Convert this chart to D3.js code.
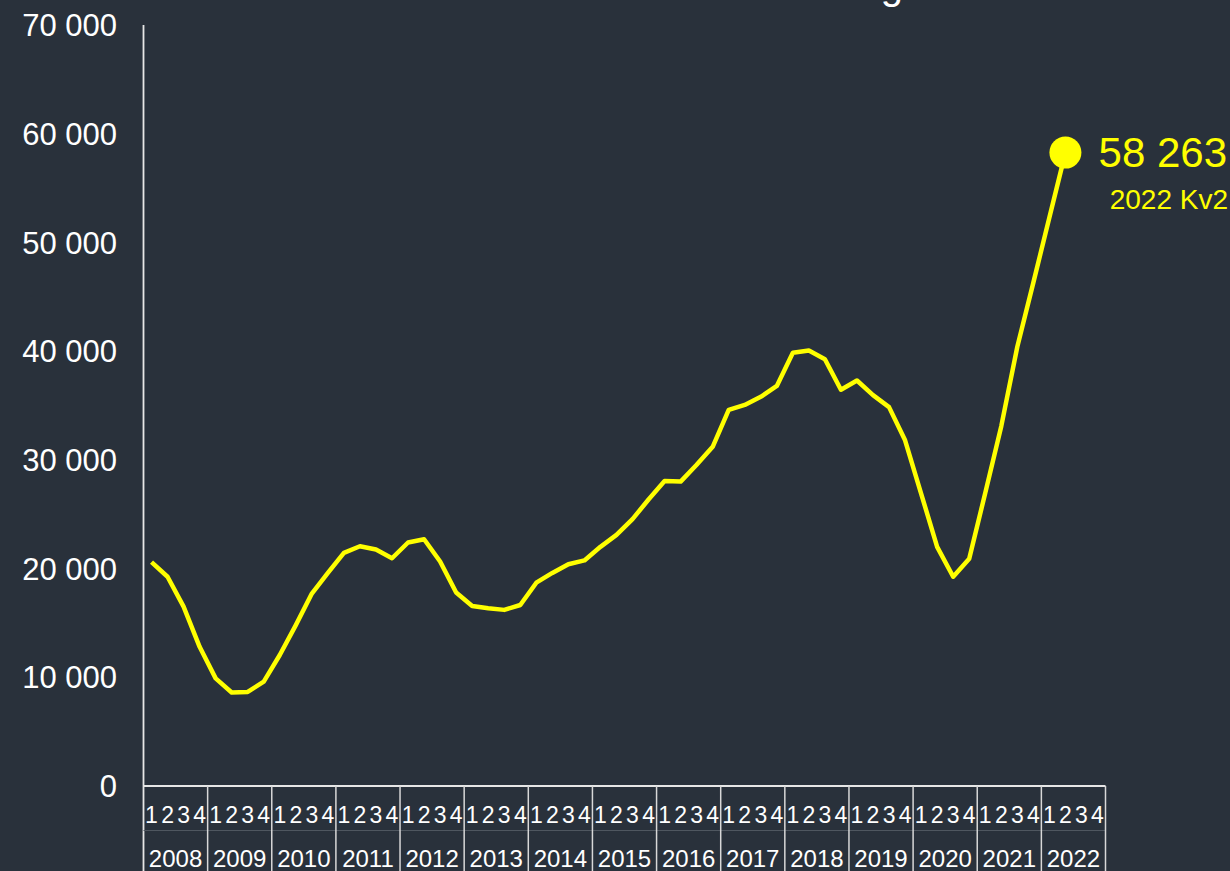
<!DOCTYPE html>
<html>
<head>
<meta charset="utf-8">
<script src="https://cdn.jsdelivr.net/npm/d3@7"></script>
<style>
    html, body { margin: 0; padding: 0; background: #29313b; }
    svg { display: block; font-family: "Liberation Sans", Arial, sans-serif; }
</style>
</head>
<body>
<div id="chart"></div>
<script>
// Data
const years = ["2008", "2009", "2010", "2011", "2012", "2013", "2014", "2015", "2016", "2017", "2018", "2019", "2020", "2021", "2022"];
const quarters = ["1", "2", "3", "4"];
const values = [
    20600, 19250, 16500, 12800,
    9900, 8600, 8650, 9600,
    12050, 14800, 17700, 19600,
    21450, 22050, 21750, 20950,
    22400, 22700, 20650, 17800,
    16550, 16350, 16200, 16650,
    18700, 19600, 20400, 20750,
    22000, 23100, 24550, 26350,
    28050, 28000, 29550, 31200,
    34600, 35050, 35800, 36800,
    39850, 40050, 39250, 36450,
    37300, 35950, 34850, 31800,
    26900, 22000, 19250, 20900,
    26950, 33100, 40400, 46300,
    52300, 58263
];
const yTicks = [0, 10000, 20000, 30000, 40000, 50000, 60000, 70000];
const title = "Utveckling";
const lastLabel = "2022 Kv2";

// Colors
const bg = "#29313b";
const lc = "#ffff00";
const tc = "#ffffff";

// Size
const w = 1230, h = 871;
const m = { top: 25, right: 124, bottom: 85, left: 143.5 };

const fmt = d3.formatLocale({ decimal: ",", thousands: " ", grouping: [3], currency: ["", ""] }).format(",d");

// Quarter keys
const keys = [];
years.forEach(yr => quarters.forEach(q => keys.push(yr + "-" + q)));
const data = values.map((v, i) => ({ key: keys[i], value: v }));

const svg = d3.select("#chart")
    .append("svg")
    .attr("width", w)
    .attr("height", h);

svg.append("rect")
    .attr("width", w)
    .attr("height", h)
    .attr("fill", bg);

// Scales
const x = d3.scaleBand().domain(keys).range([m.left, w - m.right - 0.5]);
const xy = d3.scaleBand().domain(years).range([m.left, w - m.right - 0.5]);
const y = d3.scaleLinear().domain([0, 70000]).range([h - m.bottom, m.top]);
const base = y(0);

// Title (mostly above the frame, as in the original)
svg.append("text")
    .attr("x", 903)
    .attr("y", -1)
    .attr("text-anchor", "end")
    .attr("font-size", 40)
    .attr("fill", tc)
    .text(title);

// Y-axis
svg.append("line")
    .attr("x1", m.left).attr("x2", m.left)
    .attr("y1", y(70000)).attr("y2", h)
    .attr("stroke", "#e6e6e6")
    .attr("stroke-width", 1.8);

svg.append("g")
    .selectAll("text")
    .data(yTicks)
    .join("text")
    .attr("x", 117)
    .attr("y", d => y(d))
    .attr("dy", "0.36em")
    .attr("text-anchor", "end")
    .attr("font-size", 31)
    .attr("fill", tc)
    .text(d => fmt(d));

// X-axis
svg.append("line")
    .attr("x1", m.left).attr("x2", xy.range()[1])
    .attr("y1", base).attr("y2", base)
    .attr("stroke", "#e6e6e6")
    .attr("stroke-width", 1.8);

// faint row divider
svg.append("line")
    .attr("x1", m.left).attr("x2", xy.range()[1])
    .attr("y1", 830.5).attr("y2", 830.5)
    .attr("stroke", "#4f5760")
    .attr("stroke-width", 1);

// year separators
svg.append("g")
    .selectAll("line")
    .data(years)
    .join("line")
    .attr("x1", d => xy(d) + xy.bandwidth())
    .attr("x2", d => xy(d) + xy.bandwidth())
    .attr("y1", base)
    .attr("y2", h)
    .attr("stroke", "#d8d8d8")
    .attr("stroke-width", 1.5);

// quarter labels
svg.append("g")
    .selectAll("text")
    .data(keys)
    .join("text")
    .attr("x", d => x(d) + x.bandwidth() / 2)
    .attr("y", 815)
    .attr("dy", "0.36em")
    .attr("text-anchor", "middle")
    .attr("font-size", 23)
    .attr("fill", tc)
    .text(d => d.split("-")[1]);

// year labels
svg.append("g")
    .selectAll("text")
    .data(years)
    .join("text")
    .attr("x", d => xy(d) + xy.bandwidth() / 2)
    .attr("y", 858)
    .attr("dy", "0.36em")
    .attr("text-anchor", "middle")
    .attr("font-size", 24)
    .attr("fill", tc)
    .text(d => d);

// Line
const line = d3.line()
    .x(d => x(d.key) + x.bandwidth() / 2)
    .y(d => y(d.value));

svg.append("path")
    .datum(data)
    .attr("d", line)
    .attr("fill", "none")
    .attr("stroke", lc)
    .attr("stroke-width", 4.5)
    .attr("stroke-linejoin", "round");

// Last point
const last = data[data.length - 1];
const lx = x(last.key) + x.bandwidth() / 2;
const ly = y(last.value);

svg.append("circle")
    .attr("cx", lx)
    .attr("cy", ly)
    .attr("r", 16)
    .attr("fill", lc);

svg.append("text")
    .attr("x", 1227)
    .attr("y", 167)
    .attr("text-anchor", "end")
    .attr("font-size", 42)
    .attr("fill", lc)
    .text(fmt(last.value));

svg.append("text")
    .attr("x", 1228)
    .attr("y", 209)
    .attr("text-anchor", "end")
    .attr("font-size", 28)
    .attr("fill", lc)
    .text(lastLabel);
</script>
</body>
</html>
